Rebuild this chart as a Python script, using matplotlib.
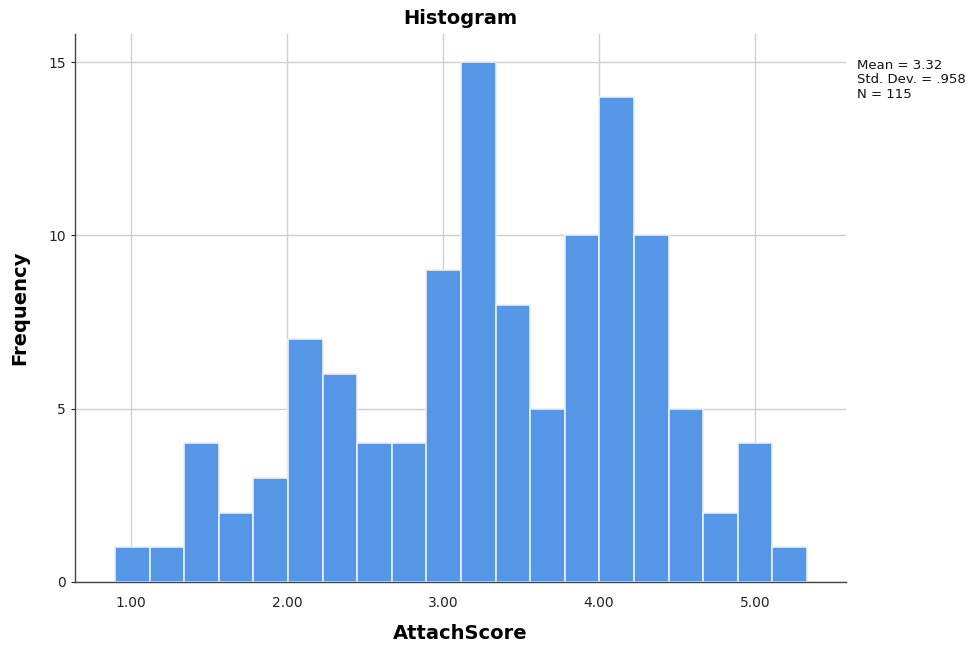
import numpy as np
import matplotlib.pyplot as plt

counts = [1, 1, 4, 2, 3, 7, 6, 4, 4, 9, 15, 8, 5, 10, 14, 10, 5, 2, 4, 1]
bin_start = 0.897
bin_end = 5.333
x_ticks = [1.0, 2.0, 3.0, 4.0, 5.0]
x_tick_labels = ["1.00", "2.00", "3.00", "4.00", "5.00"]
y_ticks = [0, 5, 10, 15]
stats_text = "Mean = 3.32\nStd. Dev. = .958\nN = 115"

edges = np.linspace(bin_start, bin_end, len(counts) + 1)
widths = np.diff(edges)

fig = plt.figure(figsize=(9.76, 6.52), dpi=100)
ax = fig.add_axes([0.0768, 0.1074, 0.79, 0.8405])

ax.bar(edges[:-1], counts, width=widths, align='edge',
       color='#5596e6', edgecolor='#e8f0fb', linewidth=1.2, zorder=2)

ax.set_xlim(0.641, 5.583)
ax.set_ylim(0, 15.81)
ax.set_xticks(x_ticks)
ax.set_xticklabels(x_tick_labels)
ax.set_yticks(y_ticks)

ax.grid(True, color='#cfcfcf', linewidth=1.0, zorder=0)
ax.set_axisbelow(True)

for side in ['top', 'right']:
    ax.spines[side].set_visible(False)
for side in ['left', 'bottom']:
    ax.spines[side].set_color('#444444')
    ax.spines[side].set_linewidth(1.0)

ax.tick_params(axis='both', labelsize=10, colors='#222222', length=3, width=0.8)
ax.tick_params(axis='x', length=0, pad=10)

ax.set_xlabel('AttachScore', fontsize=14, fontweight='bold', labelpad=10)
ax.set_ylabel('Frequency', fontsize=14, fontweight='bold', labelpad=14)
ax.set_title('Histogram', fontsize=14, fontweight='bold', pad=7)

fig.text(0.878, 0.91, stats_text, fontsize=9.5, va='top', ha='left',
         linespacing=1.15, color='#111111')

fig.savefig('out.png', dpi=100)
